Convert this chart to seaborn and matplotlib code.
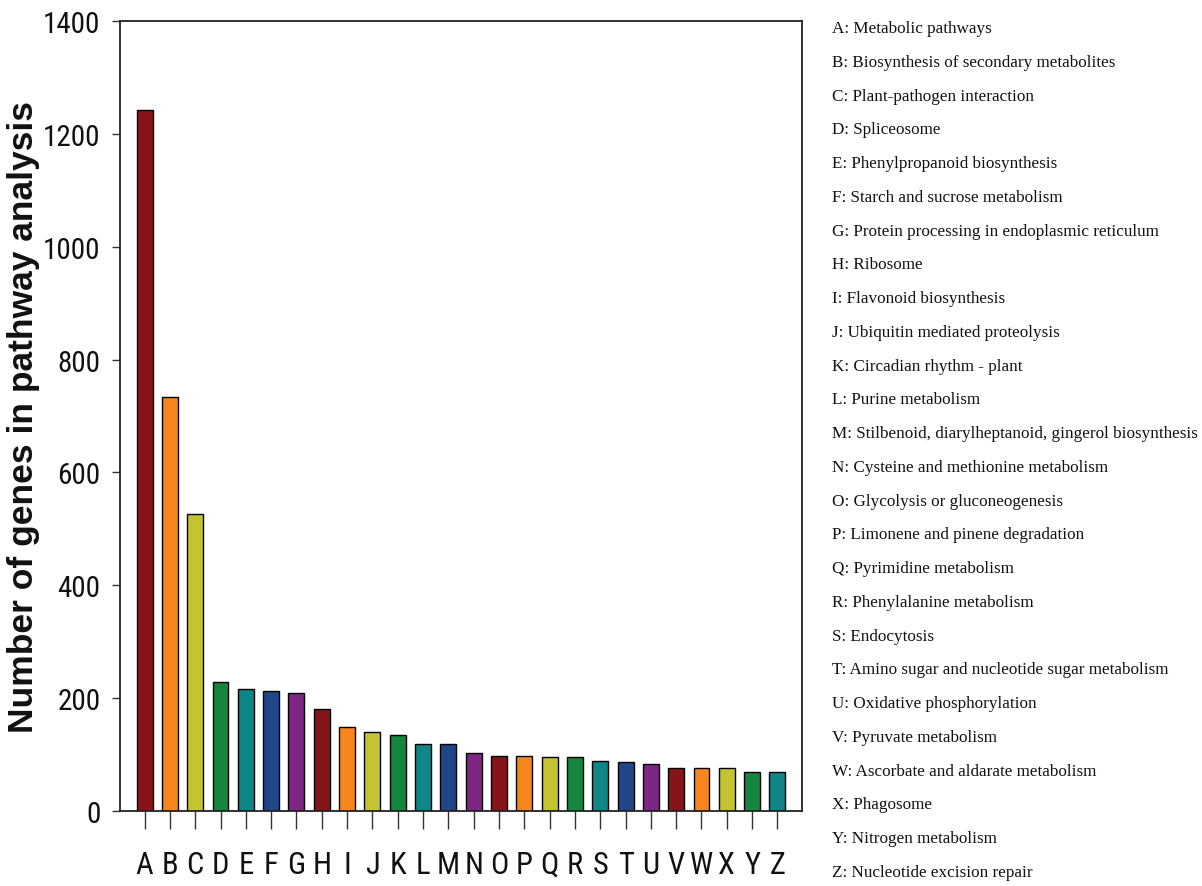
import matplotlib
matplotlib.use("Agg")
import matplotlib.pyplot as plt
import seaborn as sns
import pandas as pd

letters = list("ABCDEFGHIJKLMNOPQRSTUVWXYZ")
gene_counts = [1242, 734, 527, 228, 216, 212, 210, 181, 149, 140, 134, 118, 118,
               102, 98, 98, 95, 95, 89, 86, 83, 76, 76, 76, 70, 70]
pathways = [
    "Metabolic pathways",
    "Biosynthesis of secondary metabolites",
    "Plant-pathogen interaction",
    "Spliceosome",
    "Phenylpropanoid biosynthesis",
    "Starch and sucrose metabolism",
    "Protein processing in endoplasmic reticulum",
    "Ribosome",
    "Flavonoid biosynthesis",
    "Ubiquitin mediated proteolysis",
    "Circadian rhythm - plant",
    "Purine metabolism",
    "Stilbenoid, diarylheptanoid, gingerol biosynthesis",
    "Cysteine and methionine metabolism",
    "Glycolysis or gluconeogenesis",
    "Limonene and pinene degradation",
    "Pyrimidine metabolism",
    "Phenylalanine metabolism",
    "Endocytosis",
    "Amino sugar and nucleotide sugar metabolism",
    "Oxidative phosphorylation",
    "Pyruvate metabolism",
    "Ascorbate and aldarate metabolism",
    "Phagosome",
    "Nitrogen metabolism",
    "Nucleotide excision repair",
]
cycle_colors = ["#86151A", "#F7861F", "#C4C433", "#16853F", "#0F8585", "#1F4788", "#7E2683"]
y_ticks = [0, 200, 400, 600, 800, 1000, 1200, 1400]

sns.set_style("ticks")
plt.rcParams["font.family"] = ["Roboto Condensed", "Liberation Sans", "DejaVu Sans"]

df = pd.DataFrame({"letter": letters, "count": gene_counts})
palette = {l: cycle_colors[i % len(cycle_colors)] for i, l in enumerate(letters)}

W, H = 1202, 887
fig = plt.figure(figsize=(W / 100, H / 100), dpi=100)
ax = fig.add_axes([120 / W, 1 - 812 / H, (802 - 120) / W, (812 - 22) / H])
sns.barplot(data=df, x="letter", y="count", hue="letter", palette=palette,
            saturation=1, width=0.63, edgecolor="black", linewidth=1.0,
            legend=False, ax=ax)

ax.set_xlim(-0.97, 25.97)
ax.set_ylim(0, 1400)
ax.set_yticks(y_ticks)
ax.set_yticklabels([str(v) for v in y_ticks], fontsize=21, color="#111111")
ax.set_xticks(range(len(letters)))
ax.set_xticklabels(letters, fontsize=22, color="#111111")
ax.tick_params(axis="x", direction="out", length=13, width=1, pad=15, color="#333333")
ax.tick_params(axis="y", direction="out", length=6, width=1, pad=8, color="#333333")
for s in ax.spines.values():
    s.set_visible(True)
    s.set_linewidth(1.3)
    s.set_color("#222222")
ax.set_xlabel("")
ax.set_ylabel("Number of genes in pathway analysis", fontsize=25.5, fontweight="bold",
              family=["Liberation Sans", "DejaVu Sans"], color="#111111")
ax.yaxis.set_label_coords(-0.118, 0.5)

for i, (l, p) in enumerate(zip(letters, pathways)):
    y = 1 - (33 + i * 33.76) / H
    fig.text(832 / W, y, f"{l}: {p}", fontsize=12.3, va="baseline", ha="left",
             family=["Liberation Serif", "DejaVu Serif"], color="#111111")

fig.savefig("out.png", dpi=100)
